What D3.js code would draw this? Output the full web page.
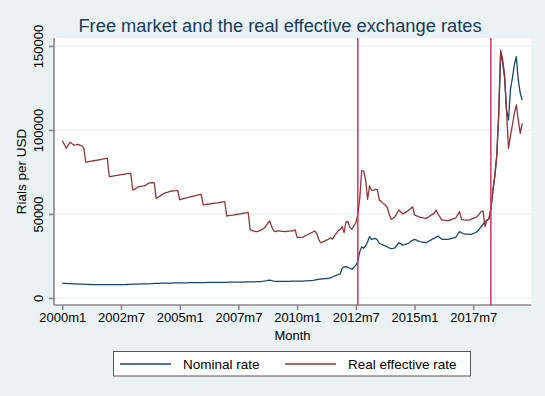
<!DOCTYPE html>
<html>
<head>
<meta charset="utf-8">
<script src="https://cdn.jsdelivr.net/npm/d3@7"></script>
<style>
    body { margin: 0; background: #eaf2f3; }
    svg { display: block; font-family: "Liberation Sans", Arial, sans-serif; }
</style>
</head>
<body>
<script>
// Monthly series, 2000m1 .. 2019m8 (Rials per USD)
var startYear = 2000;

var nominal = [
    8800, 8700, 8650, 8600, 8550, 8500, 8400, 8350, 8300, 8250, 8200, 8200,
    8150, 8100, 8050, 8000, 8000, 8000, 7950, 7950, 7950, 7950, 7950, 7950,
    7950, 7950, 7950, 7950, 7950, 7950, 8000, 8000, 8000, 8050, 8100, 8150,
    8200, 8250, 8300, 8300, 8350, 8350, 8400, 8450, 8450, 8500, 8600, 8700,
    8700, 8750, 8750, 8800, 8850, 8850, 8900, 8900, 8900, 8950, 8950, 9000,
    9000, 9000, 9050, 9050, 9100, 9100, 9100, 9150, 9150, 9150, 9200, 9200,
    9200, 9200, 9250, 9250, 9250, 9300, 9300, 9300, 9300, 9350, 9350, 9350,
    9350, 9400, 9400, 9400, 9400, 9450, 9450, 9500, 9500, 9500, 9550, 9550,
    9600, 9600, 9650, 9700, 9750, 9800, 9900, 10000, 10200, 10500, 10700, 10300,
    10000, 9900, 9900, 9950, 9950, 9950, 9950, 9950, 9950, 10000, 10000, 10000,
    10000, 10050, 10100, 10100, 10150, 10200, 10300, 10400, 10500, 10700, 10900, 11100,
    11300, 11400, 11500, 11600, 11700, 12000, 12500, 13100, 13500, 14000, 14300, 17700,
    18600, 18600, 18300, 17700, 17100, 18300, 19600, 21600, 27600, 30500, 29600, 31000,
    33500, 36500, 34900, 35200, 35500, 34500, 32500, 32000, 31500, 31000, 30500, 29800,
    29400, 29600, 29900, 31400, 32900, 32200, 31500, 31800, 32200, 32500, 33700, 34300,
    34900, 34400, 33900, 33500, 33300, 33100, 32900, 33600, 34300, 35000, 35500, 36200,
    36900, 35900, 34900, 34900, 34900, 34900, 35200, 35500, 35800, 36100, 37800, 39500,
    38800, 38300, 38100, 38000, 37900, 37900, 38400, 38900, 39500, 40900, 42400, 43900,
    45400, 46200, 47000, 53000, 63000, 72000, 84000, 109000, 146000, 140000, 131000, 112000,
    106000, 124000, 131000, 139000, 143600, 129800, 122000, 117900
];

var real = [
    93600, 91500, 89100, 91000, 92700, 91800, 91000, 91200, 91500, 91000, 90600, 89100,
    80800, 81000, 81300, 81500, 81700, 81900, 82100, 82300, 82500, 82800, 83000, 83300,
    72200, 72400, 72600, 72800, 73000, 73200, 73400, 73600, 73800, 74000, 74100, 74200,
    64300, 64800, 65500, 66300, 66500, 66600, 66700, 67500, 68200, 68600, 68600, 68500,
    59300, 60000, 60800, 61500, 62300, 62700, 63000, 63400, 63700, 63800, 63900, 64100,
    58500, 58800, 59100, 59400, 59700, 60000, 60300, 60600, 60900, 61200, 61500, 61700,
    55400, 55600, 55800, 55900, 56100, 56300, 56500, 56600, 56800, 57000, 57200, 57300,
    48800, 49000, 49200, 49300, 49500, 49700, 49900, 50100, 50300, 50500, 50700, 50800,
    40500, 40200, 39800, 39500, 39700, 40200, 40700, 41500, 42700, 44500, 45800, 42500,
    40000, 39500, 40000, 40000, 39700, 39600, 39500, 39700, 39800, 39900, 40000, 40500,
    36100, 36100, 36100, 36100, 37000, 37500, 38100, 38700, 39300, 39900, 38500, 35000,
    32900, 33400, 33900, 34400, 34900, 36100, 34900, 36800, 38500, 40000, 40900, 42400,
    38900, 45400, 45400, 42000, 40900, 43000, 44800, 49400, 59300, 75800, 75500, 70500,
    58700, 66700, 64300, 64000, 64700, 64500, 58300, 57500, 56300, 55500, 54000, 50000,
    46800, 47500, 48400, 50400, 52400, 51200, 50000, 50700, 51400, 52300, 53300, 54300,
    49400, 48900, 48400, 48000, 47800, 47600, 47400, 48200, 49000, 49800, 50400, 52400,
    50000, 48200, 46400, 46300, 46200, 46000, 46400, 46800, 47200, 47600, 49500, 51400,
    46800, 46500, 46400, 46400, 46400, 46900, 47400, 47900, 48400, 49900, 51400, 51800,
    42500, 46400, 47000, 53000, 64000, 73000, 85000, 110000, 147600, 142000, 133000, 111000,
    89100, 96500, 103000, 110000, 115000, 106000, 98000, 104000
];

var xTickLabels = ["2000m1", "2002m7", "2005m1", "2007m7", "2010m1", "2012m7", "2015m1", "2017m7"];
var yTickValues = [0, 50000, 100000, 150000];
var eventMonths = ["2012m8", "2018m4"];
var seriesNames = ["Nominal rate", "Real effective rate"];
var seriesColors = ["#1a476f", "#90353b"];

// "2012m7" -> months since 2000m1
var monthIndex = function (label) {
    var parts = label.split("m");
    return (+parts[0] - startYear) * 12 + (+parts[1] - 1);
};

var width = 545, height = 396;
var plot = {left: 54, right: 531, top: 38, bottom: 305};

var svg = d3.select("body").append("svg")
    .attr("width", width)
    .attr("height", height);

svg.append("rect")
    .attr("width", width)
    .attr("height", height)
    .style("fill", "#eaf2f3");

var x = d3.scaleLinear()
    .domain([-4.24, 239.5])
    .range([plot.left, plot.right]);

var y = d3.scaleLinear()
    .domain([0, 150000])
    .range([298, 46]);

// Plot region
svg.append("rect")
    .attr("x", plot.left)
    .attr("y", plot.top)
    .attr("width", plot.right - plot.left)
    .attr("height", plot.bottom - plot.top)
    .style("fill", "#ffffff");

// Gridlines
svg.append("g").selectAll("line")
    .data(yTickValues)
    .enter().append("line")
    .attr("x1", plot.left)
    .attr("x2", plot.right)
    .attr("y1", function (d) { return y(d); })
    .attr("y2", function (d) { return y(d); })
    .style("stroke", "#e4edef")
    .style("stroke-width", 1);

// Y axis
var yAxis = svg.append("g")
    .attr("transform", "translate(" + plot.left + ",0)")
    .call(d3.axisLeft(y).tickValues(yTickValues).tickSize(5).tickSizeOuter(0).tickFormat(d3.format("d")));
yAxis.select(".domain").attr("d", "M0," + plot.top + "V" + plot.bottom);
yAxis.selectAll(".tick text")
    .attr("transform", "rotate(-90)")
    .attr("x", 0)
    .attr("y", -11)
    .attr("dy", 0)
    .style("text-anchor", "middle")
    .style("font-size", "13px")
    .style("fill", "#000");

// X axis
var xTicks = xTickLabels.map(monthIndex);
var xAxis = svg.append("g")
    .attr("transform", "translate(0," + plot.bottom + ")")
    .call(d3.axisBottom(x).tickValues(xTicks).tickSize(5).tickSizeOuter(0)
        .tickFormat(function (d, i) { return xTickLabels[i]; }));
xAxis.select(".domain").attr("d", "M" + plot.left + ",0H" + plot.right);
xAxis.selectAll(".tick text")
    .attr("y", 8)
    .attr("dy", "0.71em")
    .style("font-size", "13px")
    .style("fill", "#000");

svg.selectAll(".domain, .tick line")
    .style("stroke", "#8a8a8a")
    .style("stroke-width", 1.6);

// Series lines
var series = [nominal, real];
var line = d3.line()
    .x(function (d, i) { return x(i); })
    .y(function (d) { return y(d); });

svg.append("g").selectAll("path")
    .data(series)
    .enter().append("path")
    .attr("d", line)
    .style("fill", "none")
    .style("stroke", function (d, i) { return seriesColors[i]; })
    .style("stroke-width", 1.3)
    .style("stroke-linejoin", "round");

// Event markers
svg.append("g").selectAll("line")
    .data(eventMonths)
    .enter().append("line")
    .attr("x1", function (d) { return x(monthIndex(d)); })
    .attr("x2", function (d) { return x(monthIndex(d)); })
    .attr("y1", plot.top)
    .attr("y2", plot.bottom)
    .style("stroke", "#d9315f")
    .style("stroke-width", 1.5);

// Titles
svg.append("text")
    .attr("x", 280)
    .attr("y", 32)
    .style("text-anchor", "middle")
    .style("font-size", "18.3px")
    .style("fill", "#1c3b5a")
    .text("Free market and the real effective exchange rates");

svg.append("text")
    .attr("x", (plot.left + plot.right) / 2)
    .attr("y", 340)
    .style("text-anchor", "middle")
    .style("font-size", "13px")
    .text("Month");

svg.append("text")
    .attr("transform", "translate(26," + ((plot.top + plot.bottom) / 2) + ") rotate(-90)")
    .style("text-anchor", "middle")
    .style("font-size", "13.5px")
    .text("Rials per USD");

// Legend
var legend = svg.append("g");
legend.append("rect")
    .attr("x", 113.5)
    .attr("y", 351.5)
    .attr("width", 357)
    .attr("height", 24.5)
    .style("fill", "#ffffff")
    .style("stroke", "#555555")
    .style("stroke-width", 1);

var legendX = [120, 285];
var item = legend.selectAll("g")
    .data(seriesNames)
    .enter().append("g")
    .attr("transform", function (d, i) { return "translate(" + legendX[i] + ",364)"; });
item.append("line")
    .attr("x1", 0)
    .attr("x2", 51)
    .style("stroke", function (d, i) { return seriesColors[i]; })
    .style("stroke-width", 1.3);
item.append("text")
    .attr("x", 63)
    .attr("dy", "0.36em")
    .style("font-size", "13.5px")
    .text(function (d) { return d; });
</script>
</body>
</html>
